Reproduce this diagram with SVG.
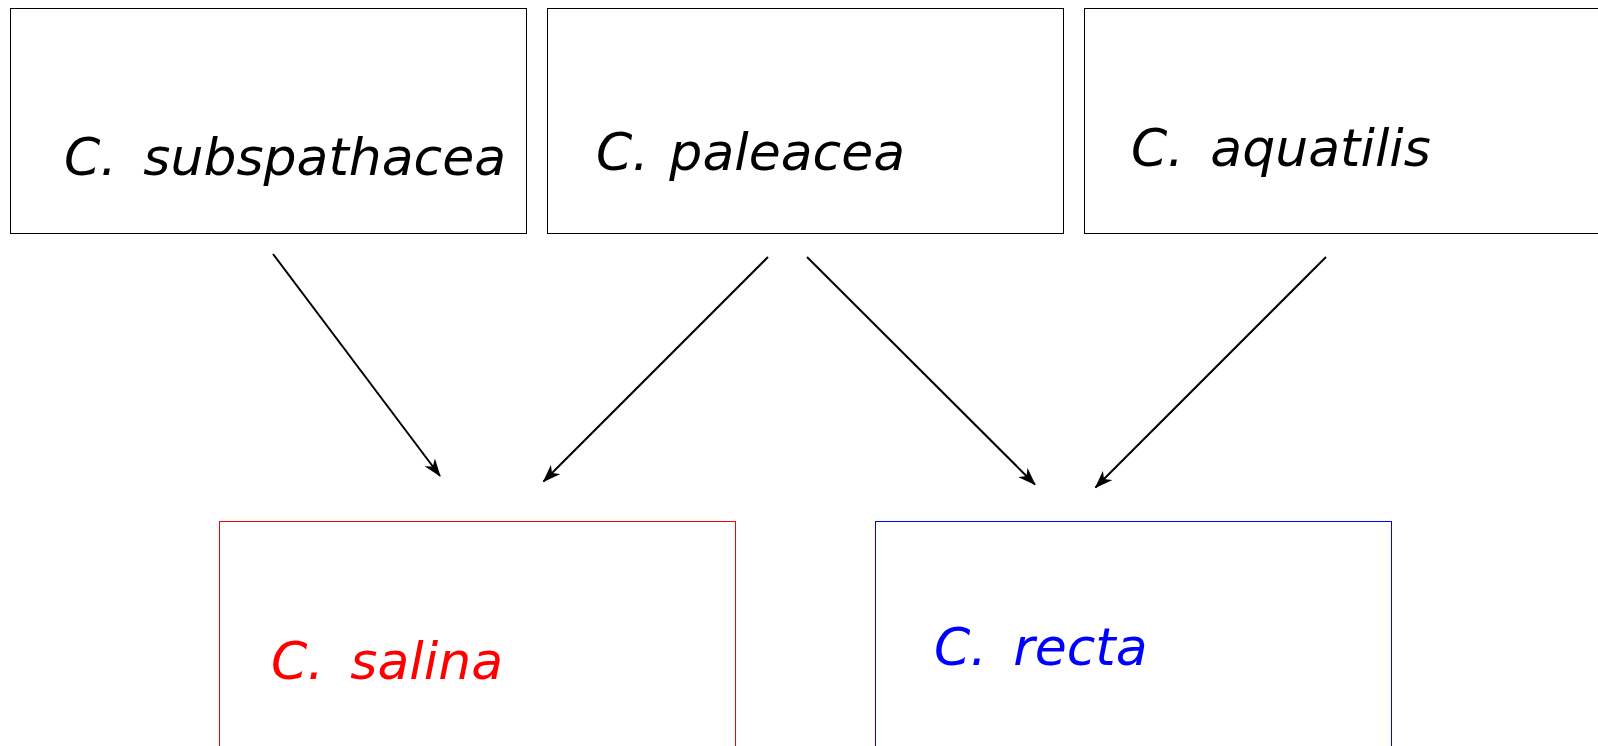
<svg xmlns="http://www.w3.org/2000/svg" width="1598" height="746" viewBox="0 0 1598 746">
<style>
.box{fill:none;stroke:#000;stroke-width:1}
.lbl{font-family:"DejaVu Sans",sans-serif;font-style:oblique;font-size:52px;fill:#000;word-spacing:10px}
.edge{stroke:#000;stroke-width:2;fill:none;marker-end:url(#ah)}
</style>
<defs>
<marker id="ah" viewBox="0 0 18 13" refX="17" refY="6.5" markerWidth="18" markerHeight="13" markerUnits="userSpaceOnUse" orient="auto">
<path d="M0,0 L18,6.5 L0,13 L5,6.5 Z" fill="#000"/>
</marker>
</defs>
<rect width="1598" height="746" fill="#fff"/>
<g id="subspathacea">
<rect class="box" x="10.5" y="8.5" width="516" height="225"/>
<text class="lbl" x="64" y="175">C. subspathacea</text>
</g>
<g id="paleacea">
<rect class="box" x="547.5" y="8.5" width="516" height="225"/>
<text class="lbl" x="596" y="170" style="word-spacing:4px">C. paleacea</text>
</g>
<g id="aquatilis">
<rect class="box" x="1084.5" y="8.5" width="516" height="225"/>
<text class="lbl" x="1131" y="166">C. aquatilis</text>
</g>
<g id="salina">
<rect class="box" x="219.5" y="521.5" width="516" height="240" style="stroke:#f00"/>
<text class="lbl" x="271" y="679" style="fill:#f00">C. salina</text>
</g>
<g id="recta">
<rect class="box" x="875.5" y="521.5" width="516" height="240" style="stroke:#00f"/>
<text class="lbl" x="934" y="665" style="fill:#00f">C. recta</text>
</g>
<g id="connectors">
<line class="edge" x1="273" y1="254" x2="440" y2="476"/>
<line class="edge" x1="768" y1="257" x2="543.5" y2="481.5"/>
<line class="edge" x1="807" y1="257" x2="1035" y2="484.5"/>
<line class="edge" x1="1326" y1="257" x2="1095.5" y2="487.5"/>
</g>
</svg>
